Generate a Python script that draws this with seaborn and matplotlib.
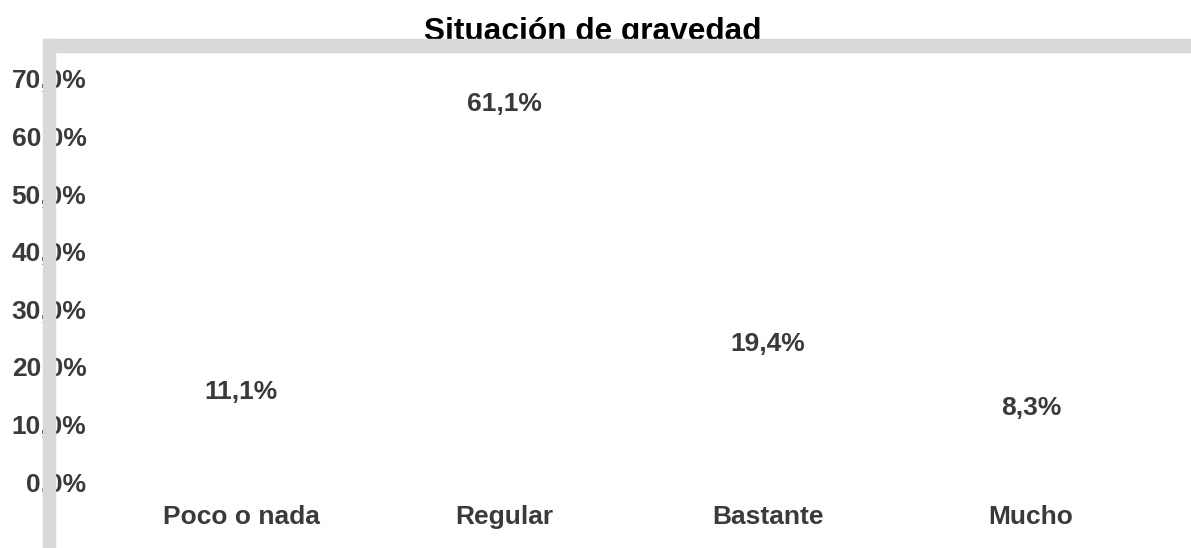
import numpy as np
import pandas as pd
import matplotlib.pyplot as plt
from matplotlib.patches import Rectangle
import seaborn as sns

# Datos
categorias = ['Poco o nada', 'Regular', 'Bastante', 'Mucho']
porcentajes = [0.111, 0.611, 0.194, 0.083]
ticks_y = [0.0, 0.1, 0.2, 0.3, 0.4, 0.5, 0.6, 0.7]
titulo = 'Situación de gravedad'

sns.set_style('white')
plt.rcParams['font.family'] = ['Liberation Sans', 'DejaVu Sans']

df = pd.DataFrame({'categoria': categorias, 'valor': porcentajes})

W, H = 1191, 548
fig = plt.figure(figsize=(W / 100, H / 100), dpi=100)
ax = fig.add_axes([109.3 / W, (H - 482) / H, (1162.7 - 109.3) / W, (482 - 79) / H])

# barras invisibles (blancas), como en el original
sns.barplot(data=df, x='categoria', y='valor', color='white', ax=ax, width=0.6)

gris = '#3a3a3a'
for i, v in enumerate(porcentajes):
    ax.annotate(f'{v * 100:.1f}%'.replace('.', ','), (i, v), xytext=(0, 19),
                textcoords='offset points', ha='center', va='center',
                fontsize=19, fontweight='bold', color=gris)

ax.set_ylim(0, 0.7)
ax.set_xlim(-0.5, 3.5)
ax.set_yticks(ticks_y)
ax.set_yticklabels([f'{t * 100:.1f}%'.replace('.', ',') for t in ticks_y])
ax.set_xlabel('')
ax.set_ylabel('')
ax.tick_params(axis='both', length=0, labelsize=19, colors=gris)
ax.tick_params(axis='y', pad=16.5)
ax.tick_params(axis='x', pad=16.5)
for lbl in ax.get_xticklabels() + ax.get_yticklabels():
    lbl.set_fontweight('bold')
sns.despine(ax=ax, left=True, bottom=True)

# paredes grises del gráfico 3D
gris_pared = '#d9d9d9'
fig.add_artist(Rectangle((43 / W, 0), 12 / W, (H - 39) / H, transform=fig.transFigure,
                         color=gris_pared, zorder=5))
fig.add_artist(Rectangle((43 / W, (H - 52) / H), 1 - 43 / W, 13 / H, transform=fig.transFigure,
                         color=gris_pared, zorder=5))

fig.text(593 / W, 1 - 40 / H, titulo, ha='center', va='baseline',
         fontsize=22.8, fontweight='bold', color='black', zorder=3)

fig.savefig('out.png', dpi=100)
